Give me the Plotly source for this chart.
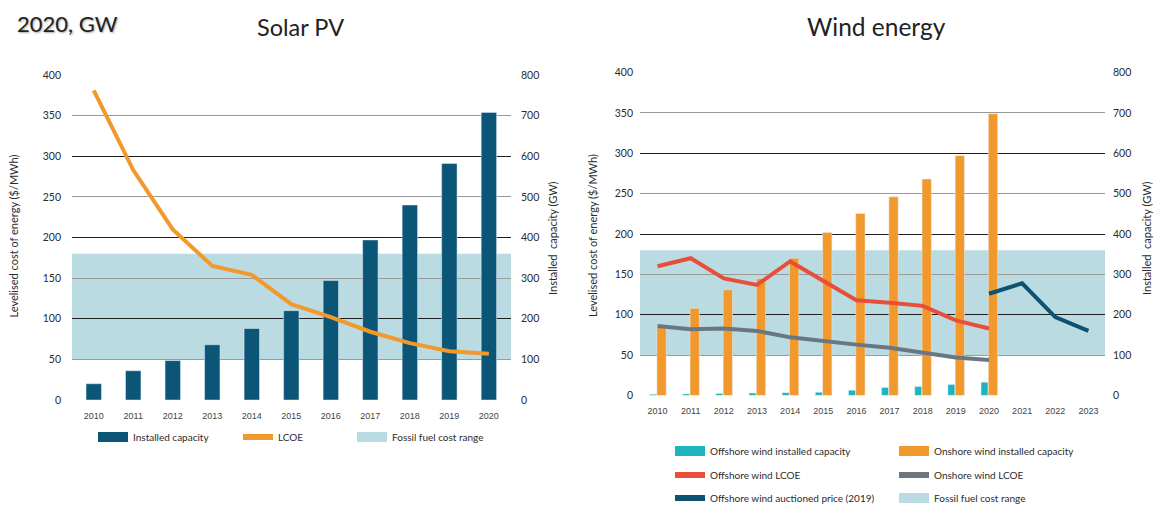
import plotly.graph_objects as go

# ---------------- data ----------------
SOLAR_YEARS = [2010, 2011, 2012, 2013, 2014, 2015, 2016, 2017, 2018, 2019, 2020]
SOLAR_CAPACITY_GW = [40, 72, 97, 136, 176, 220, 294, 394, 480, 582, 708]
SOLAR_LCOE = [381, 283, 210, 165, 154, 118, 102, 84, 70, 60, 57]

WIND_YEARS = [2010, 2011, 2012, 2013, 2014, 2015, 2016, 2017, 2018, 2019, 2020]
WIND_TICK_YEARS = [2010, 2011, 2012, 2013, 2014, 2015, 2016, 2017, 2018, 2019, 2020, 2021, 2022, 2023]
OFFSHORE_CAPACITY_GW = [3, 4, 5, 6, 7, 8, 13, 20, 22, 27, 33]
ONSHORE_CAPACITY_GW = [170, 216, 262, 290, 340, 404, 451, 492, 536, 594, 698]
OFFSHORE_LCOE = [160, 170, 145, 137, 166, 142, 118, 115, 111, 93, 83]
ONSHORE_LCOE = [86, 82, 83, 80, 72, 67, 63, 59, 53, 47, 44]
AUCTION_YEARS = [2020, 2021, 2022, 2023]
AUCTION_PRICE = [126, 139, 97, 80]

FOSSIL_RANGE = [50, 180]
LCOE_TICKS = [0, 50, 100, 150, 200, 250, 300, 350, 400]
CAPACITY_TICKS = [0, 100, 200, 300, 400, 500, 600, 700, 800]

# ---------------- style ----------------
W, H = 1159, 506
FONT = "Lato"
NAVY = "#0b5577"
ORANGE = "#f2992e"
BAND = "#b9dbe1"
TEAL = "#1db4c0"
RED = "#e84f38"
GREY = "#6b7780"
DARKBLUE = "#0d5271"
DARK_GRID = "#1e1e1e"
LIGHT_GRID = "#9a9a9a"
TXT = "#2b2b2b"


def px_x(p):
    return p / W


def px_y(p):
    return 1 - p / H


fig = go.Figure()

# ---------------- Solar PV ----------------
fig.add_trace(go.Bar(x=SOLAR_YEARS, y=SOLAR_CAPACITY_GW, width=0.39, marker_color=NAVY,
                     xaxis="x", yaxis="y", showlegend=False, name="Installed capacity"))
fig.add_trace(go.Scatter(x=SOLAR_YEARS, y=SOLAR_LCOE, mode="lines", line=dict(color=ORANGE, width=4),
                         xaxis="x", yaxis="y2", showlegend=False, name="LCOE"))
solar_legend = [("legend", "Installed capacity", NAVY, 10, 93),
                ("legend5", "LCOE", ORANGE, 6, 238),
                ("legend6", "Fossil fuel cost range", BAND, 10, 352)]
for lg, name, col, wdt, _ in solar_legend:
    fig.add_trace(go.Scatter(x=[None], y=[None], mode="lines", line=dict(color=col, width=wdt),
                             name=name, xaxis="x", yaxis="y3", legend=lg))

# ---------------- Wind energy ----------------
fig.add_trace(go.Bar(x=WIND_YEARS, y=OFFSHORE_CAPACITY_GW, width=0.21, offset=-0.24, marker_color=TEAL,
                     xaxis="x2", yaxis="y4", showlegend=False))
fig.add_trace(go.Bar(x=WIND_YEARS, y=ONSHORE_CAPACITY_GW, width=0.28, offset=-0.02, marker_color=ORANGE,
                     xaxis="x2", yaxis="y4", showlegend=False))
fig.add_trace(go.Scatter(x=WIND_YEARS, y=ONSHORE_LCOE, mode="lines", line=dict(color=GREY, width=4),
                         xaxis="x2", yaxis="y5", showlegend=False))
fig.add_trace(go.Scatter(x=WIND_YEARS, y=OFFSHORE_LCOE, mode="lines", line=dict(color=RED, width=4),
                         xaxis="x2", yaxis="y5", showlegend=False))
fig.add_trace(go.Scatter(x=AUCTION_YEARS, y=AUCTION_PRICE, mode="lines", line=dict(color=DARKBLUE, width=4),
                         xaxis="x2", yaxis="y5", showlegend=False))
legend_rows = [
    ("legend2", 451, [("Offshore wind installed capacity", TEAL, 10), ("Onshore wind installed capacity", ORANGE, 10)]),
    ("legend3", 475, [("Offshore wind LCOE", RED, 6), ("Onshore wind LCOE", GREY, 6)]),
    ("legend4", 498, [("Offshore wind auctioned price (2019)", DARKBLUE, 6), ("Fossil fuel cost range", BAND, 10)]),
]
for lg, _, items in legend_rows:
    for name, col, wdt in items:
        fig.add_trace(go.Scatter(x=[None], y=[None], mode="lines", line=dict(color=col, width=wdt),
                                 name=name, xaxis="x2", yaxis="y6", legend=lg))

# ---------------- axes ----------------
tickfont_y = dict(family=FONT, size=10.5, color=TXT)
tickfont_x = dict(family="Liberation Sans", size=9, color="#444")

L_dom_x = [px_x(72), px_x(511)]
L_dom_y = [px_y(400), px_y(75)]
R_dom_x = [px_x(640), px_x(1105)]
R_dom_y = [px_y(395.5), px_y(72.5)]

common_x = dict(showgrid=False, zeroline=False, showline=False, ticks="", tickfont=tickfont_x)
grid_axis = dict(range=[0, 400], dtick=100, showticklabels=False, ticks="",
                 showgrid=True, gridcolor=DARK_GRID, gridwidth=1.2, zeroline=False,
                 minor=dict(dtick=50, showgrid=True, gridcolor=LIGHT_GRID, gridwidth=1, ticks=""))

fig.update_layout(
    xaxis=dict(domain=L_dom_x, range=[2009.45, 2020.56], tickvals=SOLAR_YEARS, anchor="y",
               ticklabelstandoff=9, **common_x),
    yaxis=dict(domain=L_dom_y, range=[0, 800], tickvals=CAPACITY_TICKS, side="right", anchor="x",
               showgrid=False, zeroline=False, tickfont=tickfont_y, ticklabelstandoff=9),
    yaxis2=dict(range=[0, 400], tickvals=LCOE_TICKS, side="left", overlaying="y", anchor="x",
                showgrid=False, zeroline=False, tickfont=tickfont_y, ticklabelstandoff=10),
    yaxis3=dict(overlaying="y", anchor="x", side="left", **grid_axis),
    xaxis2=dict(domain=R_dom_x, range=[2009.47, 2023.5], tickvals=WIND_TICK_YEARS, anchor="y4",
                ticklabelstandoff=8, **common_x),
    yaxis4=dict(domain=R_dom_y, range=[0, 800], tickvals=CAPACITY_TICKS, side="right", anchor="x2",
                showgrid=False, zeroline=False, tickfont=tickfont_y, ticklabelstandoff=7),
    yaxis5=dict(range=[0, 400], tickvals=LCOE_TICKS, side="left", overlaying="y4", anchor="x2",
                showgrid=False, zeroline=False, tickfont=tickfont_y, ticklabelstandoff=6),
    yaxis6=dict(overlaying="y4", anchor="x2", side="left", **grid_axis),
)

# fossil fuel cost range bands
fig.add_shape(type="rect", xref="x domain", yref="y2", x0=0, x1=1, y0=FOSSIL_RANGE[0], y1=FOSSIL_RANGE[1],
              fillcolor=BAND, line_width=0, layer="below")
fig.add_shape(type="rect", xref="x2 domain", yref="y5", x0=0, x1=1, y0=FOSSIL_RANGE[0], y1=FOSSIL_RANGE[1],
              fillcolor=BAND, line_width=0, layer="below")

# ---------------- legends ----------------
legfont = dict(family=FONT, size=10, color=TXT)
for lg, _, _, _, lx in solar_legend:
    fig.update_layout({lg: dict(orientation="h", x=px_x(lx), y=px_y(437), xanchor="left",
                                yanchor="middle", font=legfont, bgcolor="rgba(0,0,0,0)",
                                itemclick=False, itemdoubleclick=False)})
for lg, ly, _ in legend_rows:
    fig.update_layout({lg: dict(orientation="h", x=px_x(670), y=px_y(ly), xanchor="left",
                                yanchor="middle", font=legfont, bgcolor="rgba(0,0,0,0)",
                                entrywidth=226 - 47, entrywidthmode="pixels",
                                itemclick=False, itemdoubleclick=False)})

# ---------------- text ----------------
ann = [
    dict(text="2020, GW", x=px_x(15), y=px_y(24), xanchor="left", yanchor="middle",
         font=dict(family=FONT, size=22, color="#222", shadow="1px 1px 2px rgba(0,0,0,0.35)")),
    dict(text="Solar PV", x=px_x(300), y=px_y(27), xanchor="center", yanchor="middle",
         font=dict(family=FONT, size=23.5, color="#222")),
    dict(text="Wind energy", x=px_x(876), y=px_y(26), xanchor="center", yanchor="middle",
         font=dict(family=FONT, size=24.5, color="#222")),
    dict(text="Levelised cost of energy ($/MWh)", x=px_x(13), y=px_y(236.5), textangle=-90,
         xanchor="center", yanchor="middle", font=dict(family=FONT, size=11, color=TXT)),
    dict(text="Installed  capacity (GW)", x=px_x(553), y=px_y(238), textangle=-90,
         xanchor="center", yanchor="middle", font=dict(family=FONT, size=11, color=TXT)),
    dict(text="Levelised cost of energy ($/MWh)", x=px_x(592), y=px_y(236), textangle=-90,
         xanchor="center", yanchor="middle", font=dict(family=FONT, size=11, color=TXT)),
    dict(text="Installed  capacity (GW)", x=px_x(1147), y=px_y(238), textangle=-90,
         xanchor="center", yanchor="middle", font=dict(family=FONT, size=11, color=TXT)),
]
for a in ann:
    a.update(xref="paper", yref="paper", showarrow=False)
fig.update_layout(annotations=ann)

fig.update_layout(
    width=W, height=H, margin=dict(l=0, r=0, t=0, b=0, autoexpand=False),
    paper_bgcolor="white", plot_bgcolor="rgba(0,0,0,0)",
    barmode="overlay", showlegend=True, hovermode=False,
    font=dict(family=FONT, color=TXT),
)

fig.write_html("out.html", config={"displayModeBar": False},
               post_script="document.body.style.margin='0';document.body.style.overflow='hidden';")
